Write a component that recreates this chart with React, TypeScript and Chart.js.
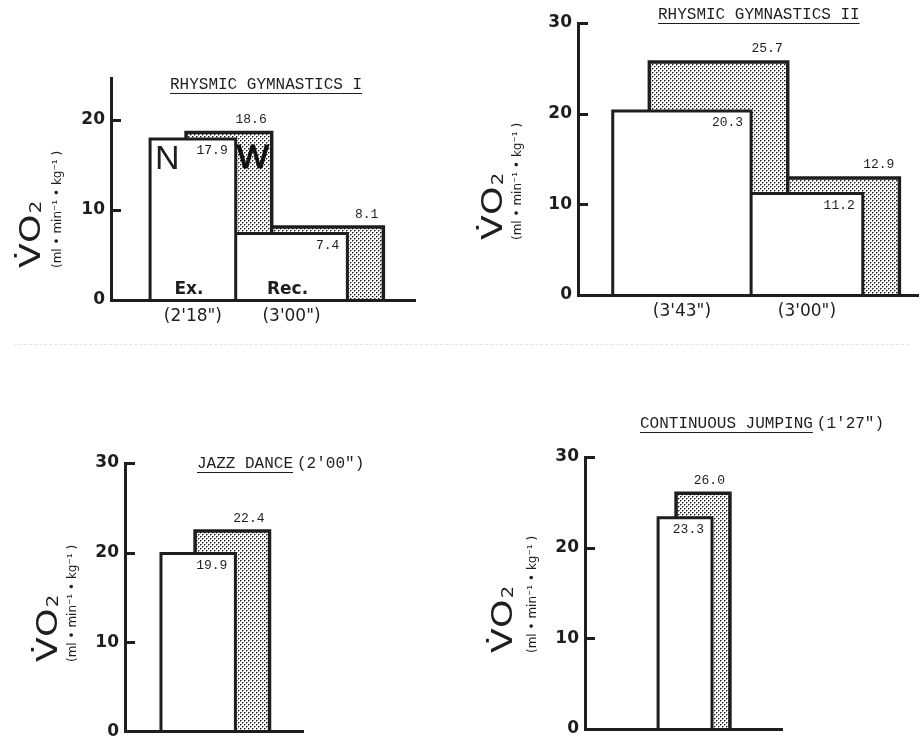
import React, { useEffect, useRef } from "react";
import { Chart, registerables } from "chart.js";

Chart.register(...registerables);
Chart.defaults.font.family = '"DejaVu Sans", sans-serif';

// ---------- data ----------
const PHASES_RG1 = ["Ex.", "Rec."];
const DURATION_LABELS_RG1 = ["(2'18\")", "(3'00\")"];
const SECONDS_RG1 = [138, 180];
const N_RG1 = [17.9, 7.4];
const W_RG1 = [18.6, 8.1];

const DURATION_LABELS_RG2 = ["(3'43\")", "(3'00\")"];
const SECONDS_RG2 = [223, 180];
const N_RG2 = [20.3, 11.2];
const W_RG2 = [25.7, 12.9];

const SECONDS_JAZZ = [120];
const N_JAZZ = [19.9];
const W_JAZZ = [22.4];

const SECONDS_JUMP = [87];
const N_JUMP = [23.3];
const W_JUMP = [26.0];

const Y_TICKS_RG1 = [0, 10, 20];
const Y_TICKS_30 = [0, 10, 20, 30];

// ---------- layout / style ----------
const W = 922;
const H = 748;
const INK = "#1e1e1e";
const Y_AXIS_W = 40;

type Panel = {
  title: string;
  suffix: string;
  titleX: number;
  titleY: number;
  seconds: number[];
  n: number[];
  w: number[];
  phases?: string[];
  durations?: string[];
  letters?: boolean;
  yMax: number;
  yTicks: number[];
  lead: number;
  shadow: number;
  xMax: number;
  axisX: number;
  top: number;
  zeroY: number;
  xEnd: number;
  xAxisH: number;
  voBig: number;
  voUnits: number;
  voBottom: number;
};

const PANELS: Panel[] = [
  {
    title: "RHYSMIC GYMNASTICS I", suffix: "", titleX: 170, titleY: 85,
    seconds: SECONDS_RG1, n: N_RG1, w: W_RG1, phases: PHASES_RG1, durations: DURATION_LABELS_RG1, letters: true,
    yMax: 24.6, yTicks: Y_TICKS_RG1, lead: 63, shadow: 58, xMax: 490,
    axisX: 111, top: 78.6, zeroY: 300, xEnd: 415, xAxisH: 30,
    voBig: -71, voUnits: -50, voBottom: 268,
  },
  {
    title: "RHYSMIC GYMNASTICS II", suffix: "", titleX: 658, titleY: 15,
    seconds: SECONDS_RG2, n: N_RG2, w: W_RG2, durations: DURATION_LABELS_RG2,
    yMax: 30, yTicks: Y_TICKS_30, lead: 56, shadow: 59, xMax: 548,
    axisX: 578, top: 23, zeroY: 295, xEnd: 918, xAxisH: 30,
    voBig: -76, voUnits: -57, voBottom: 240,
  },
  {
    title: "JAZZ DANCE", suffix: "(2'00\")", titleX: 197, titleY: 464,
    seconds: SECONDS_JAZZ, n: N_JAZZ, w: W_JAZZ,
    yMax: 30, yTicks: Y_TICKS_30, lead: 58, shadow: 55, xMax: 287,
    axisX: 125, top: 463, zeroY: 735, xEnd: 303, xAxisH: 12,
    voBig: -68, voUnits: -49, voBottom: 662,
  },
  {
    title: "CONTINUOUS JUMPING", suffix: "(1'27\")", titleX: 640, titleY: 424,
    seconds: SECONDS_JUMP, n: N_JUMP, w: W_JUMP,
    yMax: 30, yTicks: Y_TICKS_30, lead: 118, shadow: 29, xMax: 318,
    axisX: 585, top: 457, zeroY: 729, xEnd: 782, xAxisH: 12,
    voBig: -73, voUnits: -49, voBottom: 653,
  },
];

function rectPoints(start: number, seconds: number[], values: number[]) {
  const pts: { x: number; y: number }[] = [];
  let x = start;
  seconds.forEach((s, i) => {
    pts.push({ x, y: 0 }, { x, y: values[i] }, { x: x + s, y: values[i] }, { x: x + s, y: 0 });
    x += s;
  });
  return pts;
}

function centers(start: number, seconds: number[]) {
  const c: number[] = [];
  let x = start;
  seconds.forEach((s) => {
    c.push(x + s / 2);
    x += s;
  });
  return c;
}

function makePattern(ctx: CanvasRenderingContext2D) {
  const t = document.createElement("canvas");
  t.width = 4;
  t.height = 4;
  const c = t.getContext("2d")!;
  c.fillStyle = "#ffffff";
  c.fillRect(0, 0, 4, 4);
  c.fillStyle = "#111111";
  c.fillRect(0, 0, 1, 1);
  c.fillRect(2, 2, 1, 1);
  c.fillStyle = "#9a9a9a";
  c.fillRect(1, 0, 1, 1);
  c.fillRect(0, 1, 1, 1);
  c.fillRect(3, 2, 1, 1);
  c.fillRect(2, 3, 1, 1);
  return ctx.createPattern(t, "repeat")!;
}

function decor(p: Panel) {
  return {
    id: "decor",
    afterDraw(chart: any) {
      const { ctx, chartArea: a } = chart;
      const x = chart.scales.x;
      const y = chart.scales.y;
      ctx.save();
      // inward tick marks
      ctx.strokeStyle = INK;
      ctx.lineWidth = 3;
      p.yTicks.filter((v) => v > 0).forEach((v) => {
        const py = Math.round(y.getPixelForValue(v)) + 0.5;
        ctx.beginPath();
        ctx.moveTo(a.left, py);
        ctx.lineTo(a.left + 10, py);
        ctx.stroke();
      });
      // value labels
      ctx.fillStyle = INK;
      ctx.font = '13px "Liberation Mono", monospace';
      ctx.textAlign = "right";
      ctx.textBaseline = "middle";
      let xs = p.lead;
      p.seconds.forEach((s, i) => {
        const nEnd = xs + s;
        const wEnd = nEnd + p.shadow;
        ctx.fillText(p.n[i].toFixed(1), x.getPixelForValue(nEnd) - 8, y.getPixelForValue(p.n[i]) + 12);
        ctx.fillText(p.w[i].toFixed(1), x.getPixelForValue(wEnd) - 5, y.getPixelForValue(p.w[i]) - 13);
        xs = nEnd;
      });
      // phase labels and N / W letters
      if (p.phases) {
        ctx.font = 'bold 17px "DejaVu Sans", sans-serif';
        ctx.textAlign = "center";
        ctx.textBaseline = "alphabetic";
        centers(p.lead, p.seconds).forEach((c, i) => {
          ctx.fillText(p.phases![i], x.getPixelForValue(c) - 4, y.getPixelForValue(0) - 6);
        });
      }
      if (p.letters) {
        ctx.font = '34px "Liberation Sans", sans-serif';
        ctx.textAlign = "left";
        ctx.textBaseline = "top";
        ctx.fillText("N", x.getPixelForValue(p.lead) + 5, y.getPixelForValue(p.n[0]) + 4);
        ctx.fillStyle = "#111111";
        ctx.strokeStyle = "#111111";
        ctx.lineWidth = 1.2;
        const wx = x.getPixelForValue(p.lead + p.seconds[0]) + 1;
        const wy = y.getPixelForValue(p.n[0]) + 3;
        ctx.fillText("W", wx, wy);
        ctx.strokeText("W", wx, wy);
        ctx.fillStyle = INK;
        ctx.strokeStyle = INK;
      }
      // panel title
      ctx.font = '16px "Liberation Mono", monospace';
      ctx.textAlign = "left";
      ctx.textBaseline = "middle";
      ctx.fillText(p.title, p.titleX, p.titleY);
      const tw = ctx.measureText(p.title).width;
      if (p.suffix) ctx.fillText(p.suffix, p.titleX + tw + 4, p.titleY);
      ctx.lineWidth = 1.2;
      ctx.beginPath();
      ctx.moveTo(p.titleX, p.titleY + 8.5);
      ctx.lineTo(p.titleX + tw, p.titleY + 8.5);
      ctx.stroke();
      // y-axis title
      ctx.save();
      ctx.translate(a.left + p.voBig, p.voBottom);
      ctx.rotate(-Math.PI / 2);
      ctx.scale(1.3, 1);
      ctx.textAlign = "left";
      ctx.textBaseline = "alphabetic";
      ctx.font = '28px "DejaVu Sans", sans-serif';
      ctx.fillText("V\u0307O", 0, 0);
      const bw = ctx.measureText("V\u0307O").width;
      ctx.font = '15px "DejaVu Sans", sans-serif';
      ctx.fillText("2", bw + 1, 1);
      ctx.restore();
      ctx.save();
      ctx.translate(a.left + p.voUnits, p.voBottom);
      ctx.rotate(-Math.PI / 2);
      ctx.textAlign = "left";
      ctx.textBaseline = "alphabetic";
      ctx.font = '12px "DejaVu Sans", sans-serif';
      ctx.fillText("(ml \u2022 min\u207B\u00B9 \u2022 kg\u207B\u00B9 )", 0, 0);
      ctx.restore();
      ctx.restore();
    },
  };
}

function PanelChart({ p }: { p: Panel }) {
  const ref = useRef<HTMLCanvasElement>(null);
  useEffect(() => {
    const canvas = ref.current!;
    const ctx = canvas.getContext("2d")!;
    const pattern = makePattern(ctx);
    const nCenters = centers(p.lead, p.seconds);
    const chart = new Chart(canvas, {
      type: "line",
      data: {
        datasets: [
          {
            label: "N",
            data: rectPoints(p.lead, p.seconds, p.n),
            borderColor: INK,
            borderWidth: 3,
            backgroundColor: "#ffffff",
            fill: "origin",
            pointRadius: 0,
            tension: 0,
            borderJoinStyle: "miter",
          },
          {
            label: "W",
            data: rectPoints(p.lead + p.shadow, p.seconds, p.w),
            borderColor: INK,
            borderWidth: 3.5,
            backgroundColor: pattern,
            fill: "origin",
            pointRadius: 0,
            tension: 0,
            borderJoinStyle: "miter",
          },
        ],
      },
      options: {
        responsive: false,
        animation: false,
        devicePixelRatio: 1,
        events: [],
        layout: {
          padding: {
            left: p.axisX - Y_AXIS_W,
            right: W - p.xEnd,
            top: p.top,
            bottom: H - p.zeroY - p.xAxisH,
          },
        },
        plugins: { legend: { display: false }, tooltip: { enabled: false }, title: { display: false } },
        scales: {
          x: {
            type: "linear",
            min: 0,
            max: p.xMax,
            grid: { display: false, drawTicks: false },
            border: { display: true, color: INK, width: 3, z: 1 },
            afterFit: (s: any) => {
              s.height = p.xAxisH;
            },
            afterBuildTicks: (s: any) => {
              s.ticks = nCenters.map((v) => ({ value: v }));
            },
            ticks: {
              display: !!p.durations,
              autoSkip: false,
              maxRotation: 0,
              padding: 6,
              color: INK,
              font: { size: 17, family: '"DejaVu Sans", sans-serif' },
              callback: (_v: any, i: number) => (p.durations ? p.durations[i] : ""),
            },
          },
          y: {
            type: "linear",
            min: 0,
            max: p.yMax,
            grid: { display: false, drawTicks: false },
            border: { display: true, color: INK, width: 3, z: 1 },
            afterFit: (s: any) => {
              s.width = Y_AXIS_W;
            },
            afterBuildTicks: (s: any) => {
              s.ticks = p.yTicks.map((v) => ({ value: v }));
            },
            ticks: {
              padding: 6,
              color: INK,
              font: { size: 17, weight: "bold", family: '"DejaVu Sans", sans-serif' },
            },
          },
        },
      },
      plugins: [decor(p)],
    } as any);
    return () => chart.destroy();
  }, [p]);
  return (
    <canvas
      ref={ref}
      width={W}
      height={H}
      style={{ position: "absolute", left: 0, top: 0, width: W, height: H }}
    />
  );
}

export default function App() {
  return (
    <div style={{ position: "fixed", left: 0, top: 0, width: W, height: H, background: "#ffffff", overflow: "hidden" }}>
      <div
        style={{
          position: "absolute",
          left: 14,
          top: 344,
          width: 895,
          borderTop: "1px dashed rgba(0,0,0,0.10)",
        }}
      />
      {PANELS.map((p, i) => (
        <PanelChart key={i} p={p} />
      ))}
    </div>
  );
}
